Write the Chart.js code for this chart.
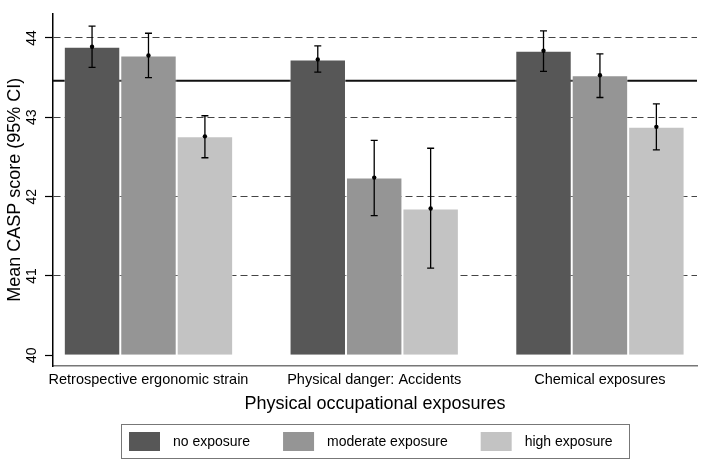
<!DOCTYPE html>
<html>
<head>
<meta charset="utf-8">
<script src="https://cdn.jsdelivr.net/npm/chart.js@4.4.1/dist/chart.umd.min.js"></script>
<style>
  html, body { margin: 0; padding: 0; background: #fff; }
  #wrap { width: 704px; height: 465px; }
</style>
</head>
<body>
<div id="wrap"><canvas id="caspChart" width="704" height="465"></canvas></div>
<script>
const categories = ['Retrospective ergonomic strain', 'Physical danger: Accidents', 'Chemical exposures'];
const exposureLevels = ['no exposure', 'moderate exposure', 'high exposure'];
const barColors = ['#575757', '#959595', '#c3c3c3'];

// mean CASP score per category
const noExposure = [43.89, 43.73, 43.84];
const moderateExposure = [43.78, 42.24, 43.53];
const highExposure = [42.76, 41.85, 42.88];

// 95% CI bounds
const noExposureLow = [43.63, 43.57, 43.58];
const noExposureHigh = [44.15, 43.90, 44.09];
const moderateLow = [43.50, 41.76, 43.25];
const moderateHigh = [44.06, 42.71, 43.80];
const highLow = [42.49, 41.10, 42.59];
const highHigh = [43.02, 42.61, 43.17];

const overallMean = 43.46;
const yTicks = [40, 41, 42, 43, 44];

const seriesValues = [noExposure, moderateExposure, highExposure];
const ciLow = [noExposureLow, moderateLow, highLow];
const ciHigh = [noExposureHigh, moderateHigh, highHigh];

const fontFamily = '"Liberation Sans", Arial, Helvetica, sans-serif';
Chart.defaults.font.family = fontFamily;
Chart.defaults.color = '#000';

// solid line at the overall mean, under the bars
const meanLine = {
    id: 'meanLine',
    beforeDatasetsDraw(chart) {
        const { ctx, chartArea, scales } = chart;
        const y = scales.y.getPixelForValue(overallMean);
        ctx.save();
        ctx.strokeStyle = '#111';
        ctx.lineWidth = 2;
        ctx.beginPath();
        ctx.moveTo(chartArea.left, y);
        ctx.lineTo(chartArea.right, y);
        ctx.stroke();
        ctx.restore();
    }
};

// CI whiskers + mean dot
const errorBars = {
    id: 'errorBars',
    afterDatasetsDraw(chart) {
        const { ctx, scales } = chart;
        ctx.save();
        ctx.strokeStyle = '#000';
        ctx.fillStyle = '#000';
        ctx.lineWidth = 1.3;
        chart.data.datasets.forEach((ds, d) => {
            chart.getDatasetMeta(d).data.forEach((bar, i) => {
                const x = bar.x;
                const yLo = scales.y.getPixelForValue(ciLow[d][i]);
                const yHi = scales.y.getPixelForValue(ciHigh[d][i]);
                const yMid = scales.y.getPixelForValue(seriesValues[d][i]);
                ctx.beginPath();
                ctx.moveTo(x, yLo); ctx.lineTo(x, yHi);
                ctx.moveTo(x - 3.5, yLo); ctx.lineTo(x + 3.5, yLo);
                ctx.moveTo(x - 3.5, yHi); ctx.lineTo(x + 3.5, yHi);
                ctx.stroke();
                ctx.beginPath();
                ctx.arc(x, yMid, 2.2, 0, Math.PI * 2);
                ctx.fill();
            });
        });
        ctx.restore();
    }
};

// boxed legend under the axis title
const legendBox = {
    id: 'legendBox',
    afterDraw(chart) {
        const ctx = chart.ctx;
        ctx.save();
        ctx.font = '14px ' + fontFamily;
        const sw = 31, sh = 19, gapText = 13, gapItem = 33, padL = 8, padR = 13;
        const widths = exposureLevels.map(t => ctx.measureText(t).width);
        let total = padL + padR;
        widths.forEach((w, i) => { total += sw + gapText + w + (i < widths.length - 1 ? gapItem : 0); });
        const cx = (chart.chartArea.left + chart.chartArea.right) / 2;
        const left = Math.round(cx - total / 2) - 2;
        const top = 424, h = 34;
        ctx.strokeStyle = '#777';
        ctx.lineWidth = 1;
        ctx.strokeRect(left + 0.5, top + 0.5, Math.round(total) + 3, h);
        let x = left + padL;
        exposureLevels.forEach((t, i) => {
            ctx.fillStyle = barColors[i];
            ctx.fillRect(x, top + 8, sw, sh);
            x += sw + gapText;
            ctx.fillStyle = '#000';
            ctx.textBaseline = 'middle';
            ctx.fillText(t, x, top + h / 2 + 1);
            x += widths[i] + gapItem;
        });
        ctx.restore();
    }
};

const ctx = document.getElementById('caspChart').getContext('2d');
new Chart(ctx, {
    type: 'bar',
    data: {
        datasets: exposureLevels.map((label, d) => ({
            label: label,
            data: seriesValues[d].map((v, i) => ({ x: i + 1, y: v })),
            backgroundColor: barColors[d],
            borderColor: 'rgba(255,255,255,0.35)',
            borderWidth: 1,
            base: 40,
            categoryPercentage: 0.75,
            barPercentage: 1
        }))
    },
    options: {
        responsive: false,
        animation: false,
        layout: { padding: { left: 0, right: 7, top: 5, bottom: 47 } },
        plugins: {
            legend: { display: false },
            tooltip: { enabled: false }
        },
        scales: {
            x: {
                type: 'linear',
                offset: false,
                min: 0.577,
                max: 3.43,
                afterBuildTicks: s => { s.ticks = categories.map((c, i) => ({ value: i + 1 })); },
                afterFit: s => { s.height = 52; },
                ticks: {
                    callback: v => categories[v - 1],
                    autoSkip: false,
                    maxRotation: 0,
                    padding: 5,
                    font: { size: 14.5 },
                    color: '#000'
                },
                grid: { offset: false, drawOnChartArea: false, drawTicks: false },
                border: { display: true, color: '#777', width: 1.5 },
                title: {
                    display: true,
                    text: 'Physical occupational exposures',
                    font: { size: 18 },
                    color: '#000',
                    padding: { top: 4, bottom: 3 }
                }
            },
            y: {
                min: 39.865,
                max: 44.31,
                afterBuildTicks: s => { s.ticks = yTicks.map(v => ({ value: v })); },
                afterFit: s => { s.width = 53; },
                ticks: {
                    minRotation: 90,
                    maxRotation: 90,
                    crossAlign: 'center',
                    padding: 5,
                    font: { size: 14 },
                    color: '#000'
                },
                grid: {
                    color: c => (c.tick && c.tick.value === 40) ? 'rgba(0,0,0,0)' : '#444',
                    lineWidth: 1,
                    tickLength: 8,
                    tickColor: '#000',
                    tickWidth: 1.2
                },
                border: { display: true, color: '#000', width: 1.5, dash: [7, 4] },
                title: {
                    display: true,
                    text: 'Mean CASP score (95% CI)',
                    font: { size: 18 },
                    color: '#000',
                    padding: { top: 4, bottom: 0 }
                }
            }
        }
    },
    plugins: [meanLine, errorBars, legendBox]
});
</script>
</body>
</html>
